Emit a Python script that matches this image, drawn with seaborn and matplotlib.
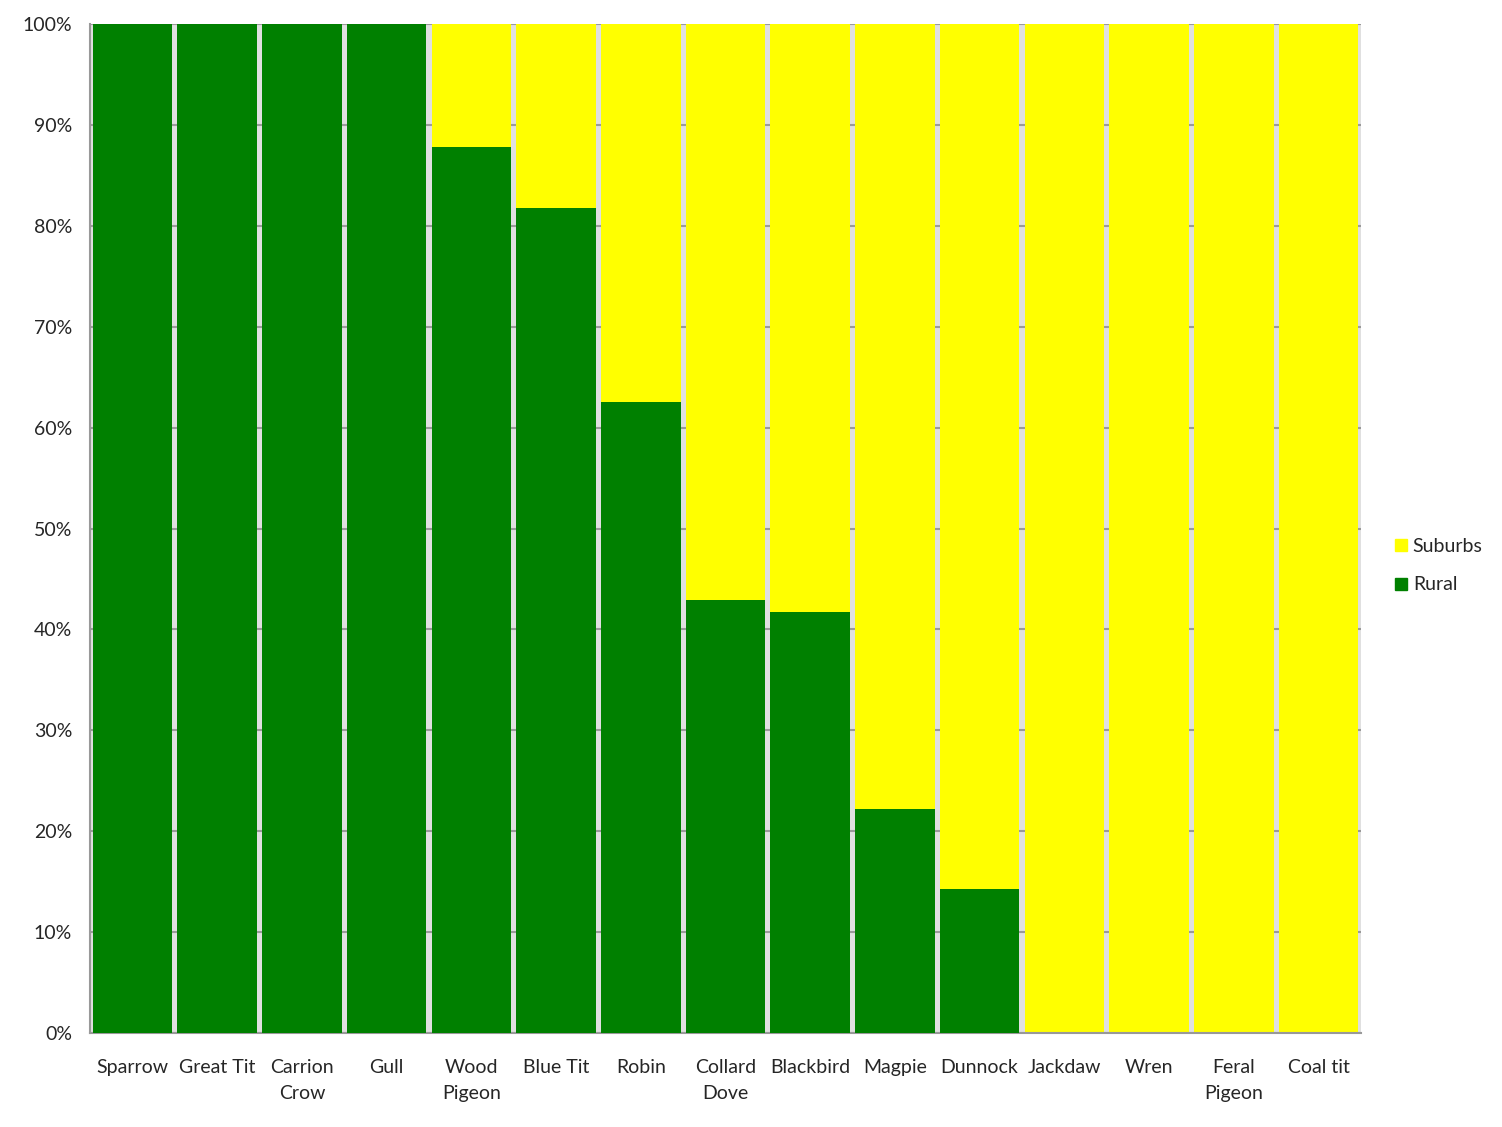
import numpy as np
import pandas as pd
import matplotlib
matplotlib.use("Agg")
import matplotlib.pyplot as plt
import seaborn as sns
from matplotlib.lines import Line2D

# data (percent of sightings)
birds = ["Sparrow", "Great Tit", "Carrion\nCrow", "Gull", "Wood\nPigeon", "Blue Tit",
         "Robin", "Collard\nDove", "Blackbird", "Magpie", "Dunnock", "Jackdaw", "Wren",
         "Feral\nPigeon", "Coal tit"]
rural = [100, 100, 100, 100, 87.8, 81.8, 62.5, 42.9, 41.7, 22.2, 14.3, 0, 0, 0, 0]
suburbs = [0, 0, 0, 0, 12.2, 18.2, 37.5, 57.1, 58.3, 77.8, 85.7, 100, 100, 100, 100]

df = pd.DataFrame({"bird": birds, "rural": rural, "suburbs": suburbs})
df["total"] = df["rural"] + df["suburbs"]

sns.set_style("white")
plt.rcParams["font.family"] = ["Lato", "DejaVu Sans"]

GREEN = "#008000"
YELLOW = "#ffff00"
GRID = "#999999"

fig = plt.figure(figsize=(15.02, 11.27), dpi=100)
ax = fig.add_axes([0.06, 0.0834, 0.846, 0.8953])
ax.set_facecolor("#e0e0e0")

sns.barplot(data=df, x="bird", y="total", color=YELLOW, width=0.94,
            saturation=1, linewidth=0, ax=ax, zorder=2)
sns.barplot(data=df, x="bird", y="rural", color=GREEN, width=0.94,
            saturation=1, linewidth=0, ax=ax, zorder=3)

ax.set_xlim(-0.5, len(birds) - 0.5)
ax.set_ylim(0, 100)
ax.set_yticks(np.arange(0, 101, 10))
ax.set_yticklabels([f"{v}%" for v in range(0, 101, 10)], fontsize=14)
ax.yaxis.grid(True, color=GRID, linewidth=1.5, zorder=0)
ax.set_axisbelow(True)

# category labels centred, tick marks on the boundaries
ax.set_xticks(np.arange(len(birds)))
ax.set_xticklabels(birds, fontsize=14, linespacing=1.6)
ax.tick_params(axis="x", length=0, pad=19)
ax.set_xticks(np.arange(-0.5, len(birds)), minor=True)
ax.tick_params(axis="x", which="minor", length=7, width=1.5, color=GRID, direction="out")
ax.tick_params(axis="y", length=7, width=1.5, color=GRID, direction="out", pad=6)

ax.set_xlabel("")
ax.set_ylabel("")
for side in ["top", "right"]:
    ax.spines[side].set_visible(False)
for side in ["left", "bottom"]:
    ax.spines[side].set_color(GRID)
    ax.spines[side].set_linewidth(1.5)

handles = [Line2D([], [], marker="s", linestyle="", color=YELLOW, markersize=8),
           Line2D([], [], marker="s", linestyle="", color=GREEN, markersize=8)]
fig.legend(handles, ["Suburbs", "Rural"], loc="center left",
           bbox_to_anchor=(0.916, 0.498), frameon=False, fontsize=14,
           handletextpad=0.2, labelspacing=1.1, handlelength=0.8)

fig.savefig("out.png", dpi=100, facecolor="white")
